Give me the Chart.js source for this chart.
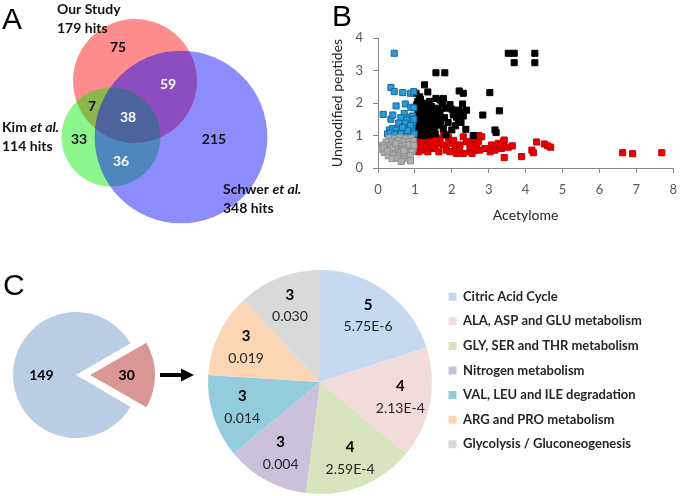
<!DOCTYPE html>
<html>
<head>
<meta charset="utf-8">
<script src="https://cdn.jsdelivr.net/npm/chart.js@4"></script>
<style>
  body { margin: 0; background: #fff; }
  #wrap { position: relative; width: 680px; height: 496px; overflow: hidden; }
  #wrap canvas { position: absolute; }
</style>
</head>
<body>
<div id="wrap">
  <canvas id="venn" width="325" height="240" style="left:0;top:0"></canvas>
  <canvas id="scatter" width="361" height="228" style="left:325px;top:0"></canvas>
  <canvas id="splitPie" width="200" height="234" style="left:0;top:262px"></canvas>
  <canvas id="pathPie" width="480" height="234" style="left:200px;top:262px"></canvas>
</div>
<script>
// ---- A: overlap of the three hit lists
const vennSets = ['Our Study', 'Kim', 'Schwer'];
const vennHits = [179, 114, 348];
// 75 only ours, 59 ours+Schwer, 7 ours+Kim, 38 all, 33 only Kim, 215 only Schwer, 36 Kim+Schwer
const vennRegionCounts = [75, 59, 7, 38, 33, 215, 36];

// ---- B: acetylome vs unmodified peptides
const bluePts = [
  [0.44,3.53],[0.35,2.48],[0.44,2.35],[0.67,2.32],[0.88,2.30],[0.97,2.35],
  [0.49,1.91],[0.74,1.97],[0.89,1.87],[0.97,1.85],
  [0.14,1.65],[0.35,1.50],[0.40,1.63],[0.71,1.68],[0.85,1.56],[0.94,1.60],[0.62,1.55],[0.78,1.48],
  [0.56,1.38],[0.74,1.38],[0.94,1.38],[0.71,1.22],[0.92,1.22],[0.85,1.07],[0.98,1.05],
  [0.31,1.17],[0.40,1.22],[0.49,1.17],[0.26,1.05],[0.53,1.07],[0.76,1.02],[0.62,1.05],
  [0.35,1.08],[0.45,1.02],[0.88,1.30],[0.97,1.50],[0.80,1.15],[0.66,1.25]
];
const blackPts = [
  [3.53,3.53],[3.69,3.53],[3.69,3.24],[4.25,3.53],[4.25,3.24],
  [1.57,2.93],[1.81,2.93],[1.26,2.56],[1.35,2.34],[2.20,2.37],[2.31,2.30],[3.03,2.32],
  [1.13,2.19],[1.15,2.11],[1.03,2.30],[1.57,2.14],[1.68,2.09],[1.77,2.14],[1.75,1.99],[2.29,1.97],
  [1.45,1.89],[1.63,1.84],[1.82,1.84],[1.50,1.73],[1.68,1.68],[2.00,1.81],
  [2.18,1.78],[2.25,1.73],[2.40,1.78],[2.31,1.60],[2.13,1.56],[2.18,1.48],[2.04,1.63],
  [2.84,1.63],[3.29,1.76],[1.50,1.53],[1.63,1.48],[1.45,1.38],[1.54,1.27],[1.68,1.32],
  [1.77,1.22],[1.50,1.17],[2.00,1.17],[2.38,1.19],[2.58,1.00],[3.17,1.17],[3.20,1.09],[1.84,1.02],
  [1.05,1.95],[1.10,1.80],[1.20,1.85],[1.28,1.75],[1.35,1.70],[1.08,1.65],[1.18,1.60],[1.25,1.55],
  [1.38,1.58],[1.05,1.45],[1.15,1.40],[1.28,1.42],[1.40,1.45],[1.10,1.28],[1.22,1.25],[1.33,1.30],
  [1.05,1.15],[1.18,1.12],[1.30,1.10],[1.42,1.15],[1.12,1.02],[1.25,1.00],[1.38,1.02],[1.20,2.00],
  [1.30,1.95],[1.40,2.05],[1.08,2.05],[1.45,1.75],[1.02,1.30],[1.55,1.05],[1.60,1.60],[1.70,1.45],
  [1.80,1.55],[1.90,1.40],[2.10,1.30],[2.25,1.40],[1.95,1.95],[1.40,1.85]
];
const redPts = [
  [1.02,0.98],[1.05,0.85],[1.08,0.70],[1.03,0.55],[1.12,0.92],[1.15,0.78],[1.12,0.60],[1.10,0.50],
  [1.20,0.85],[1.22,0.70],[1.25,0.55],[1.28,0.95],[1.30,0.80],[1.32,0.65],[1.35,0.50],[1.38,0.88],
  [1.42,0.72],[1.45,0.60],[1.48,0.82],[1.18,0.98],[1.05,0.65],[1.40,0.98],
  [1.50,0.66],[1.55,0.60],[1.68,0.86],[1.77,1.02],[1.91,0.94],[1.95,0.76],[1.77,0.71],[2.09,0.66],
  [2.22,0.71],[2.31,0.96],[2.40,0.81],[2.58,0.86],[2.49,0.71],[2.72,0.81],[2.81,0.96],[2.67,0.66],
  [1.95,0.50],[2.13,0.45],[2.31,0.45],[2.49,0.50],[2.63,0.55],[2.76,0.55],[2.90,0.60],[3.04,0.50],
  [3.17,0.55],[3.26,0.76],[3.40,0.81],[3.35,0.60],[3.08,0.71],[1.60,0.75],[1.85,0.55],[2.05,0.85],
  [2.20,0.55],[2.55,0.45],[1.65,0.50],[1.58,0.92],
  [2.73,1.00],[3.42,0.86],[3.31,0.71],[3.53,0.64],[3.64,0.68],[3.42,0.32],[3.89,0.35],[4.17,0.55],
  [4.21,0.47],[4.30,0.80],[4.51,0.74],[4.60,0.68],[4.68,0.64],[6.63,0.47],[6.90,0.44],[7.69,0.47]
];
const grayPts = [
  [0.30,0.92],[0.45,0.90],[0.60,0.93],[0.75,0.90],[0.90,0.92],
  [0.22,0.80],[0.38,0.82],[0.52,0.79],[0.68,0.82],[0.83,0.80],[0.96,0.83],
  [0.12,0.70],[0.28,0.68],[0.43,0.71],[0.58,0.68],[0.73,0.70],[0.88,0.67],
  [0.08,0.58],[0.20,0.60],[0.35,0.57],[0.50,0.60],[0.65,0.57],[0.80,0.60],[0.95,0.58],
  [0.17,0.48],[0.32,0.50],[0.47,0.47],[0.62,0.50],[0.78,0.47],[0.92,0.50],
  [0.28,0.38],[0.42,0.40],[0.57,0.37],[0.72,0.40],[0.87,0.38],
  [0.38,0.29],[0.53,0.30],[0.68,0.28],[0.63,0.20],[0.88,0.22],
  [0.15,0.62],[0.55,0.85],[0.85,0.72],[0.40,0.63],[0.70,0.53],[0.25,0.52],[0.48,0.75],[0.97,0.70]
];

// ---- C: our hits split, then the enriched pathways
const splitCounts = [149, 30];
const pathways = [
  'Citric Acid Cycle', 'ALA, ASP and GLU metabolism', 'GLY, SER and THR metabolism',
  'Nitrogen metabolism', 'VAL, LEU and ILE degradation', 'ARG and PRO metabolism',
  'Glycolysis / Gluconeogenesis'
];
const pathwayCounts = [5, 4, 4, 3, 3, 3, 3];
const pathwayP = ['5.75E-6', '2.13E-4', '2.59E-4', '0.004', '0.014', '0.019', '0.030'];

const FONT = 'Lato';
const pathColors = ['#c6d9f1', '#f2dcdb', '#d7e4bd', '#ccc1da', '#93cddd', '#fcd5b5', '#d9d9d9'];

// venn layout (canvas px)
const vennCenters = [[135, 81], [111, 137], [181, 137]];
const vennFill = ['rgba(255,0,0,0.45)', 'rgba(0,235,0,0.45)', 'rgba(0,0,250,0.45)'];
const regionSpots = [[118, 47], [168, 84], [92, 106], [128, 117], [79, 139], [214, 139], [121, 161]];
const regionWhite = [false, true, false, true, false, false, true];

const vennText = {
  id: 'vennText',
  afterDatasetsDraw(chart) {
    const {ctx, scales: {x, y}} = chart;
    ctx.save();
    ctx.fillStyle = '#000';
    ctx.font = '30px "Liberation Sans"';
    ctx.textBaseline = 'alphabetic';
    ctx.fillText('A', 2, 29);

    ctx.font = `bold 14px ${FONT}`;
    ctx.textAlign = 'center';
    ctx.textBaseline = 'middle';
    vennRegionCounts.forEach((n, i) => {
      ctx.fillStyle = regionWhite[i] ? '#fff' : '#111';
      ctx.fillText(n, x.getPixelForValue(regionSpots[i][0]), y.getPixelForValue(regionSpots[i][1]));
    });

    ctx.textAlign = 'left';
    ctx.fillStyle = '#111';
    const caption = (name, italic, hits, px, py) => {
      ctx.font = `bold 14px ${FONT}`;
      ctx.fillText(name, px, py);
      if (italic) {
        const w = ctx.measureText(name + ' ').width;
        ctx.font = `italic bold 14px ${FONT}`;
        ctx.fillText('et al.', px + w, py);
        ctx.font = `bold 14px ${FONT}`;
      }
      ctx.fillText(hits + ' hits', px, py + 19);
    };
    caption(vennSets[0], false, vennHits[0], 57, 9);
    caption(vennSets[1], true, vennHits[1], 2, 127);
    caption(vennSets[2], true, vennHits[2], 223, 189);
    ctx.restore();
  }
};

new Chart(document.getElementById('venn'), {
  type: 'bubble',
  data: {
    datasets: [{
      data: vennHits.map((h, i) => ({x: vennCenters[i][0], y: vennCenters[i][1], r: 4.63 * Math.sqrt(h)})),
      backgroundColor: vennFill,
      borderWidth: 0,
      clip: false
    }]
  },
  options: {
    responsive: false,
    animation: false,
    events: [],
    layout: {autoPadding: false, padding: 0},
    scales: {
      x: {display: false, min: 0, max: 325},
      y: {display: false, min: 0, max: 240, reverse: true}
    },
    plugins: {legend: {display: false}, tooltip: {enabled: false}}
  },
  plugins: [vennText]
});

// ---- B
const toXY = pts => pts.map(([x, y]) => ({x, y}));
const axisGray = '#868686';
const tickFont = {family: FONT, size: 13};

const letterB = {
  id: 'letterB',
  afterDraw(chart) {
    const ctx = chart.ctx;
    ctx.save();
    ctx.fillStyle = '#000';
    ctx.font = '30px "Liberation Sans"';
    ctx.fillText('B', 7, 26);
    ctx.restore();
  }
};

// canvas runs a little past the page edge: the x axis keeps (half last label + tick padding) on the right
new Chart(document.getElementById('scatter'), {
  type: 'scatter',
  data: {
    datasets: [
      {data: toXY(grayPts), backgroundColor: '#adadad', borderColor: '#8f8f8f'},
      {data: toXY(bluePts), backgroundColor: '#2b9bd8', borderColor: '#17699c'},
      {data: toXY(blackPts), backgroundColor: '#000', borderColor: '#000'},
      {data: toXY(redPts), backgroundColor: '#e80000', borderColor: '#c40000'}
    ]
  },
  options: {
    responsive: false,
    animation: false,
    events: [],
    layout: {autoPadding: false, padding: {top: 38, right: 0}},
    elements: {point: {pointStyle: 'rect', radius: 4.3, borderWidth: 1}},
    scales: {
      x: {
        type: 'linear', min: 0, max: 8,
        ticks: {stepSize: 1, color: '#595959', font: tickFont, padding: 9},
        grid: {drawOnChartArea: false, tickLength: 5, color: axisGray},
        border: {color: axisGray},
        title: {display: true, text: 'Acetylome', color: '#262626', font: {family: FONT, size: 14}},
        afterFit(s) { s.height = 60; }
      },
      y: {
        min: 0, max: 4,
        ticks: {stepSize: 1, color: '#595959', font: tickFont, padding: 10},
        grid: {drawOnChartArea: false, tickLength: 5, color: axisGray},
        border: {color: axisGray},
        title: {display: true, text: 'Unmodified peptides', color: '#262626', font: {family: FONT, size: 14}},
        afterFit(s) { s.width = 53; }
      }
    },
    plugins: {legend: {display: false}, tooltip: {enabled: false}}
  },
  plugins: [letterB]
});

// ---- C, left: split pie with arrow
// Chart.js moves an offset arc by offset/4 * (2 - sin(circumference)); invert that for a 16px gap
const arcShift = (off, circ) => off / 4 * (2 - Math.sin(Math.min(Math.PI, circ)));
const splitCirc = 2 * Math.PI * splitCounts[1] / (splitCounts[0] + splitCounts[1]);
const splitOffset = 16 / arcShift(1, splitCirc);

const splitDecor = {
  id: 'splitDecor',
  afterDatasetsDraw(chart) {
    const ctx = chart.ctx;
    const arcs = chart.getDatasetMeta(0).data;
    ctx.save();
    ctx.fillStyle = '#000';
    ctx.font = '30px "Liberation Sans"';
    ctx.fillText('C', 3, 33);

    ctx.font = `bold 14px ${FONT}`;
    ctx.textAlign = 'center';
    ctx.textBaseline = 'middle';
    arcs.forEach((arc, i) => {
      const {x, y, startAngle, endAngle, outerRadius, circumference} =
        arc.getProps(['x', 'y', 'startAngle', 'endAngle', 'outerRadius', 'circumference'], true);
      const mid = (startAngle + endAngle) / 2;
      const d = outerRadius * 0.55 + arcShift(arc.options.offset || 0, circumference);
      ctx.fillText(splitCounts[i], x + Math.cos(mid) * d, y + Math.sin(mid) * d);
    });

    // arrow towards the pathway pie
    ctx.strokeStyle = '#000';
    ctx.lineWidth = 4;
    ctx.beginPath();
    ctx.moveTo(160, 113);
    ctx.lineTo(183, 113);
    ctx.stroke();
    ctx.beginPath();
    ctx.moveTo(194, 113);
    ctx.lineTo(181, 106.5);
    ctx.lineTo(181, 119.5);
    ctx.closePath();
    ctx.fill();
    ctx.restore();
  }
};

new Chart(document.getElementById('splitPie'), {
  type: 'pie',
  data: {
    labels: splitCounts.map(String),
    datasets: [{
      data: splitCounts,
      backgroundColor: ['#b9cde5', '#d99694'],
      borderWidth: 0,
      offset: [0, splitOffset],
      radius: 63,
      rotation: 90 + 180 * splitCounts[1] / (splitCounts[0] + splitCounts[1])
    }]
  },
  options: {
    responsive: false,
    animation: false,
    events: [],
    layout: {padding: {right: 48, bottom: 8}},
    plugins: {legend: {display: false}, tooltip: {enabled: false}}
  },
  plugins: [splitDecor]
});

// ---- C, right: pathway pie with legend
const pathLabels = {
  id: 'pathLabels',
  afterDatasetsDraw(chart) {
    const ctx = chart.ctx;
    const arcs = chart.getDatasetMeta(0).data;
    ctx.save();
    ctx.textAlign = 'center';
    ctx.textBaseline = 'middle';
    arcs.forEach((arc, i) => {
      const {x, y, startAngle, endAngle, outerRadius} =
        arc.getProps(['x', 'y', 'startAngle', 'endAngle', 'outerRadius'], true);
      const mid = (startAngle + endAngle) / 2;
      const cx = x + Math.cos(mid) * outerRadius * 0.73;
      const cy = y + Math.sin(mid) * outerRadius * 0.73;
      ctx.fillStyle = '#000';
      ctx.font = `bold 15px ${FONT}`;
      ctx.fillText(pathwayCounts[i], cx, cy - 11);
      ctx.fillStyle = '#262626';
      ctx.font = `14px ${FONT}`;
      ctx.fillText(pathwayP[i], cx, cy + 11);
    });
    ctx.restore();
  }
};

// legend text should start at x=463; work out right padding from the text width
const legendFont = {family: FONT, size: 13, weight: 'bold'};
const mctx = document.createElement('canvas').getContext('2d');
mctx.font = `bold 13px ${FONT}`;
const legendTextW = Math.max(...pathways.map(t => mctx.measureText(t).width));
const padR = Math.max(0, 207 - legendTextW);

new Chart(document.getElementById('pathPie'), {
  type: 'pie',
  data: {
    labels: pathways,
    datasets: [{
      data: pathwayCounts,
      backgroundColor: pathColors,
      borderWidth: 0,
      radius: 112
    }]
  },
  options: {
    responsive: false,
    animation: false,
    events: [],
    layout: {padding: {top: 16.6, bottom: 10.6, left: 3.1, right: padR}},
    plugins: {
      legend: {
        position: 'right',
        align: 'start',
        maxWidth: 320,
        labels: {boxWidth: 8, boxHeight: 8, padding: 11.6, color: '#262626', font: legendFont}
      },
      tooltip: {enabled: false}
    }
  },
  plugins: [pathLabels]
});
</script>
</body>
</html>
